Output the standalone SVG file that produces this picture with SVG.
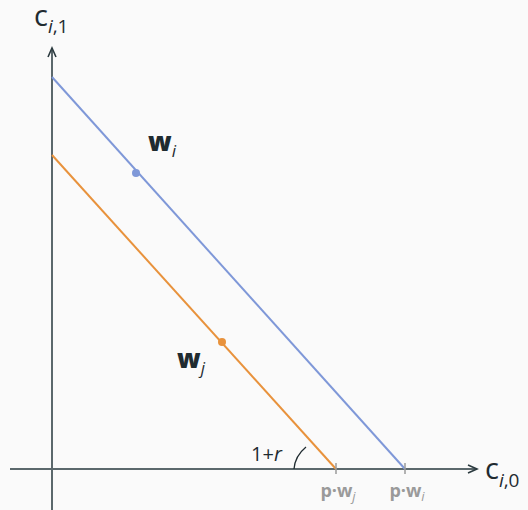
<svg xmlns="http://www.w3.org/2000/svg" width="528" height="510" viewBox="0 0 528 510">
<style>
text{font-family:"Open Sans","Noto Sans",sans-serif;fill:#1f2b30}
.ax{stroke:#5b686c;stroke-width:2;fill:none}
.tick{fill:#9a9a9a;font-weight:bold;font-size:18px}
.w{font-weight:800;font-size:26px}
.sub{font-style:italic}
</style>
<defs>
<marker id="ah" markerWidth="12" markerHeight="10" refX="10" refY="5" orient="auto" markerUnits="userSpaceOnUse">
<path d="M1,1 L10,5 L1,9" fill="none" stroke="#2b3a3f" stroke-width="1.6"/>
</marker>
</defs>
<rect width="528" height="510" fill="#fafafa"/>
<g id="axes">
<line class="ax" x1="52" y1="510" x2="52" y2="48" marker-end="url(#ah)"/>
<line class="ax" x1="10" y1="469" x2="477" y2="469" marker-end="url(#ah)"/>
</g>
<g id="connectors">
<line x1="52" y1="77" x2="405" y2="469" stroke="#7f98d8" stroke-width="2"/>
<line x1="52" y1="155" x2="336" y2="469" stroke="#e8923c" stroke-width="2"/>
<line x1="336" y1="463" x2="336" y2="474" stroke="#9a9a9a" stroke-width="1.5"/>
<line x1="405" y1="463" x2="405" y2="474" stroke="#9a9a9a" stroke-width="1.5"/>
<path d="M294,469 Q295,456 306,447" fill="none" stroke="#1f2b30" stroke-width="1.3"/>
</g>
<g id="wi">
<circle cx="136" cy="173" r="4" fill="#7f98d8"/>
<text x="148" y="151" class="w">w<tspan class="sub" font-weight="normal" font-size="17" dy="6">i</tspan></text>
</g>
<g id="wj">
<circle cx="222" cy="342" r="4" fill="#e8923c"/>
<text x="177" y="368" class="w">w<tspan class="sub" font-weight="normal" font-size="17" dy="6">j</tspan></text>
</g>
<g id="label-c1">
<text x="34" y="26" font-size="29" font-weight="500">c<tspan class="sub" font-size="19" dy="7">i</tspan><tspan font-size="19">,1</tspan></text>
</g>
<g id="label-c0">
<text x="485" y="479" font-size="29" font-weight="500">c<tspan class="sub" font-size="19" dy="8">i</tspan><tspan font-size="19">,0</tspan></text>
</g>
<g id="label-r">
<text x="251" y="461" font-size="20">1+<tspan class="sub">r</tspan></text>
</g>
<g id="tick-j">
<text x="338" y="497" class="tick" text-anchor="middle">p·w<tspan class="sub" font-weight="normal" font-size="13" dy="4">j</tspan></text>
</g>
<g id="tick-i">
<text x="407" y="497" class="tick" text-anchor="middle">p·w<tspan class="sub" font-weight="normal" font-size="13" dy="4">i</tspan></text>
</g>
</svg>
